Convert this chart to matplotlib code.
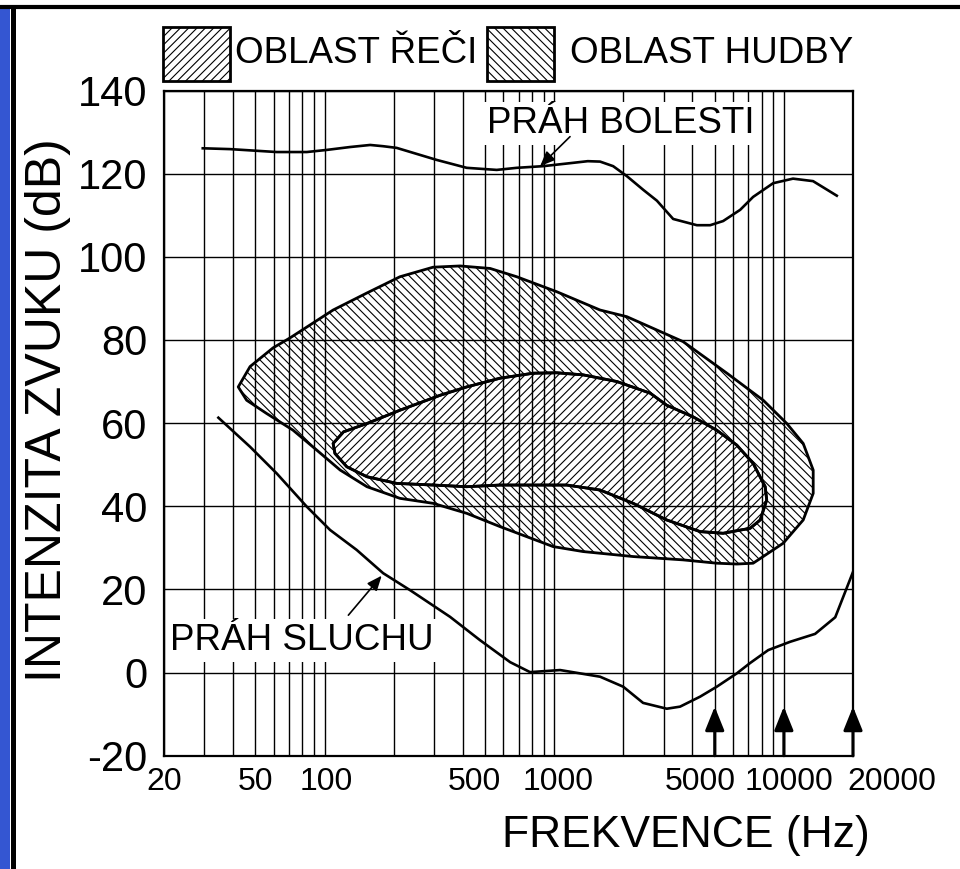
import matplotlib
matplotlib.use("Agg")
import matplotlib.pyplot as plt
import matplotlib.transforms as mtransforms
from matplotlib.patches import PathPatch, Polygon, Rectangle
from matplotlib.path import Path
from matplotlib.lines import Line2D

plt.rcParams['font.family'] = ['Liberation Sans', 'DejaVu Sans']
plt.rcParams['hatch.linewidth'] = 0.8
plt.rcParams['axes.unicode_minus'] = False

# threshold of pain (PRÁH BOLESTI)
pain_f = [29.5, 38.8, 61.9, 83.7, 102, 129, 158, 180, 206, 308, 416, 562, 687, 895,
          1208, 1400, 1584, 1806, 2072, 2443, 2800, 3296, 4180, 4776, 5440, 6454,
          7346, 8980, 10960, 13400, 17000]
pain_db = [126.1, 125.9, 125.2, 125.2, 125.7, 126.4, 126.9, 126.6, 126.2, 123.3, 121.4,
           120.9, 121.4, 121.8, 122.6, 123.0, 122.9, 121.8, 119.4, 116.1, 113.5, 109.1,
           107.6, 107.6, 108.6, 111.3, 114.4, 117.7, 118.8, 118.2, 114.7]

# threshold of hearing (PRÁH SLUCHU)
hear_f = [34.5, 47.4, 61.9, 83.7, 105.7, 138, 180, 236, 352, 475, 643, 785, 1061, 1584,
          1997, 2438, 3092, 3532, 4318, 5106, 6238, 7132, 8548, 10650, 13680, 16740, 20000]
hear_db = [61.3, 54.3, 47.9, 39.9, 34.3, 29.5, 23.9, 19.8, 13.4, 7.8, 2.5, 0.1, 0.6, -1.0,
           -3.4, -7.3, -8.7, -8.2, -5.8, -3.4, -0.2, 2.3, 5.4, 7.4, 9.3, 13.3, 24.2]

# music area (OBLAST HUDBY) outline
music_f = [42.1, 47.4, 59.7, 70.8, 109, 153, 213, 297, 389, 526, 687, 1026, 1584, 2070,
           3640, 5650, 8130, 10300, 12140, 13420, 13420, 12140, 9930, 7350, 6240, 5100,
           3640, 2208, 1337, 989, 581, 416, 297, 213, 153, 117, 92.5, 72.9, 56, 45.8]
music_db = [68.7, 73.6, 78.1, 80.5, 87.2, 91.3, 95.2, 97.5, 97.8, 97.2, 95.2, 91.6, 87.2,
            85.6, 79.6, 72, 65.5, 59.9, 55.1, 48.7, 43.1, 36.7, 31.1, 26.3, 26.1, 26.3,
            27.1, 27.9, 29.1, 30.3, 35.1, 38.3, 40.7, 41.9, 44.7, 48.7, 53.5, 58.3, 62.3, 65.5]

# speech area (OBLAST ŘEČI) outline
speech_f = [109, 121, 153, 213, 319, 416, 581, 810, 1026, 1337, 1874, 2618, 3090, 4028,
            5100, 6240, 7350, 8294, 8420, 7890, 7130, 5440, 4320, 3090, 2208, 1584, 1135,
            581, 416, 297, 206, 153, 125, 111]
speech_db = [55.1, 57.9, 59.9, 63.1, 66.7, 68.7, 70.8, 72, 72.1, 71.6, 70, 67.2, 64.3, 61.5,
             58.3, 54.7, 50.3, 44.7, 41.5, 36.7, 34.7, 33.5, 33.9, 36.7, 40.7, 43.9, 45.1,
             45.1, 44.7, 45.1, 45.5, 47.1, 49.5, 52.7]

xticks = [20, 50, 100, 500, 1000, 5000, 10000, 20000]
xtick_labels = ["20", "50", "100", "500", "1000", "5000", "10000", "20000"]
yticks = [-20, 0, 20, 40, 60, 80, 100, 120, 140]
marked_f = [5000, 10000, 20000]
legend_labels = ["OBLAST ŘEČI", "OBLAST HUDBY"]

fig = plt.figure(figsize=(9.6, 8.69), dpi=100)
ax = fig.add_axes([164/960, 1-755.7/869, 689/960, 665.2/869])

ax.set_xscale('log')
ax.set_xlim(20, 20000)
ax.set_ylim(-20, 140)
ax.set_yticks(yticks)
ax.set_xticks(xticks, xtick_labels)
ax.xaxis.set_minor_formatter(matplotlib.ticker.NullFormatter())
ax.tick_params(which='both', length=0)
ax.tick_params(axis='y', labelsize=30, pad=12)
ax.tick_params(axis='x', labelsize=23, pad=8)
ax.grid(True, which='both', color='black', lw=1.0)
ax.set_axisbelow(True)
for s in ax.spines.values():
    s.set_linewidth(1.6)

# nudge x tick labels like in the original slide
shifts = {"100": 2, "500": -11, "1000": 4, "5000": -14, "10000": 5, "20000": 39}
for lab in ax.get_xticklabels():
    dx = shifts.get(lab.get_text(), 0)
    if dx:
        lab.set_transform(lab.get_transform() +
                          mtransforms.ScaledTranslation(dx/100, 0, fig.dpi_scale_trans))

# music area with the speech area cut out, speech area on its own
outer = list(zip(music_f, music_db))
inner = list(zip(speech_f, speech_db))[::-1]
verts = outer + [outer[0]] + inner + [inner[0]]
codes = ([Path.MOVETO] + [Path.LINETO] * (len(outer) - 1) + [Path.CLOSEPOLY] +
         [Path.MOVETO] + [Path.LINETO] * (len(inner) - 1) + [Path.CLOSEPOLY])
ax.add_patch(PathPatch(Path(verts, codes), facecolor='none', edgecolor='black',
                       hatch='\\\\\\\\', lw=2.0, joinstyle='round'))
ax.add_patch(Polygon(list(zip(speech_f, speech_db)), closed=True, facecolor='none',
                     edgecolor='black', hatch='////', lw=2.0, joinstyle='round'))

ax.plot(pain_f, pain_db, color='black', lw=1.9)
ax.plot(hear_f, hear_db, color='black', lw=1.9)

ax.text(510, 129.8, "PRÁH BOLESTI", fontsize=26.5, va='baseline', ha='left',
        bbox=dict(facecolor='white', edgecolor='none', pad=3))
ax.annotate("", xy=(868, 121.8), xytext=(1172, 128.9),
            arrowprops=dict(arrowstyle='-|>,head_length=0.6,head_width=0.25',
                            color='black', lw=1.2, shrinkA=0, shrinkB=0, mutation_scale=15))
ax.text(21.2, 5.4, "PRÁH SLUCHU", fontsize=26.5, va='baseline', ha='left',
        bbox=dict(facecolor='white', edgecolor='none', pad=3))
ax.annotate("", xy=(177.4, 23.3), xytext=(127, 13.8),
            arrowprops=dict(arrowstyle='-|>,head_length=0.6,head_width=0.25',
                            color='black', lw=1.2, shrinkA=0, shrinkB=0, mutation_scale=15))

for f in marked_f:
    ax.annotate("", xy=(f, -8.2), xytext=(f, -20),
                arrowprops=dict(arrowstyle='-|>,head_length=0.72,head_width=0.29',
                                color='black', lw=2.2, shrinkA=0, shrinkB=0,
                                mutation_scale=20))

ax.set_xlabel("FREKVENCE (Hz)", fontsize=32)
ax.xaxis.set_label_coords(0.758, -0.089)
ax.set_ylabel("INTENZITA ZVUKU (dB)", fontsize=36, va='center', ha='center',
              rotation_mode='default')
ax.yaxis.set_label_coords(-0.1684, 0.52)

# legend drawn by hand: hatched boxes and labels in figure pixels
px = mtransforms.Affine2D().scale(1/960, -1/869).translate(0, 1) + fig.transFigure
for (bx, tx), hatch, label in zip([(163, 235), (487, 570)], ['////', '\\\\\\\\'],
                                  legend_labels):
    fig.add_artist(Rectangle((bx, 27), 67, 54, transform=px, facecolor='white',
                             edgecolor='black', hatch=hatch, lw=2))
    fig.text(tx, 63.3, label, transform=px, fontsize=26.5, va='baseline', ha='left')

# slide decoration: blue side bar and black frame lines
fig.add_artist(Rectangle((0, 0), 10/960, 1-9/869, transform=fig.transFigure,
                         facecolor='#3456d2', edgecolor='none'))
fig.add_artist(Line2D([0, 1], [1-7/869, 1-7/869], transform=fig.transFigure,
                      color='black', lw=3))
fig.add_artist(Line2D([12.5/960, 12.5/960], [0, 1-7/869], transform=fig.transFigure,
                      color='black', lw=3.6))

fig.savefig("out.png", dpi=100)
